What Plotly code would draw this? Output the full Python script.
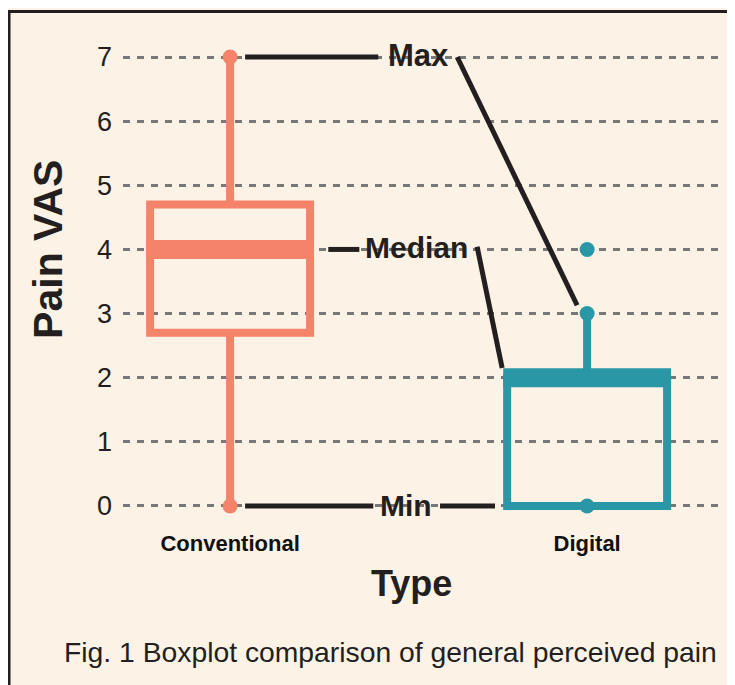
import plotly.graph_objects as go

# ---- data ----
categories = ["Conventional", "Digital"]
q1 = [2.7, 0.0]
median = [4.0, 2.0]
q3 = [4.7, 2.0]
lower_fence = [0.0, 0.0]
upper_fence = [7.0, 3.0]
point_cat = ["Conventional", "Conventional", "Digital", "Digital", "Digital"]
point_val = [7, 0, 4, 3, 0]
y_ticks = [0, 1, 2, 3, 4, 5, 6, 7]

colors = {"Conventional": "#F5836A", "Digital": "#2A97A6"}
BG = "#FCF2E6"
INK = "#231F20"
FONT = "Liberation Sans, Arial, Helvetica, sans-serif"
BOXW = 0.448

fig = go.Figure()

for i, c in enumerate(categories):
    col = colors[c]
    fig.add_trace(go.Box(
        x=[i], q1=[q1[i]], median=[median[i]], q3=[q3[i]],
        lowerfence=[lower_fence[i]], upperfence=[upper_fence[i]],
        width=BOXW, whiskerwidth=0,
        line=dict(color=col, width=8),
        fillcolor="rgba(0,0,0,0)",
        boxpoints=False, showlegend=False, hoverinfo="skip", name=c,
    ))
    # thick median band
    half = BOXW / 2 + 0.011
    fig.add_trace(go.Scatter(
        x=[i - half, i + half], y=[median[i], median[i]],
        mode="lines", line=dict(color=col, width=19),
        showlegend=False, hoverinfo="skip",
    ))

fig.add_trace(go.Scatter(
    x=[categories.index(c) for c in point_cat], y=point_val,
    mode="markers",
    marker=dict(size=15, color=[colors[c] for c in point_cat]),
    showlegend=False, hoverinfo="skip",
))

# ---- annotation callouts (Max / Median / Min) ----
callout_lines = [
    ((0.042, 7.0), (0.415, 7.0)),
    ((0.636, 7.0), (0.972, 3.13)),
    ((0.275, 4.0), (0.362, 4.0)),
    ((0.692, 4.04), (0.762, 2.15)),
    ((0.042, 0.0), (0.401, 0.0)),
    ((0.588, 0.0), (0.742, 0.0)),
]
shapes = []
for (x0, y0), (x1, y1) in callout_lines:
    shapes.append(dict(type="line", xref="x", yref="y", x0=x0, y0=y0, x1=x1, y1=y1,
                       line=dict(color=INK, width=5), layer="above"))

# frame (left and top border)
shapes.append(dict(type="path", xref="paper", yref="paper",
                   path="M -0.1906,-0.36 L -0.1906,1.0613 L 1.03,1.0613",
                   line=dict(color=INK, width=3)))

annotations = [
    dict(x=0.529, y=7.0, xref="x", yref="y", text="<b>Max</b>", showarrow=False,
         font=dict(size=31, color=INK, family=FONT), yshift=2),
    dict(x=0.521, y=4.0, xref="x", yref="y", text="<b>Median</b>", showarrow=False,
         font=dict(size=30, color=INK, family=FONT), yshift=2),
    dict(x=0.493, y=0.0, xref="x", yref="y", text="<b>Min</b>", showarrow=False,
         font=dict(size=30, color=INK, family=FONT), yshift=0),
    dict(x=-0.167, y=0.566, xref="paper", yref="paper", text="<b>Pain VAS</b>",
         textangle=-90, showarrow=False, font=dict(size=41, color=INK, family=FONT)),
    dict(x=0.482, y=-0.175, xref="paper", yref="paper", text="<b>Type</b>",
         showarrow=False, font=dict(size=36, color=INK, family=FONT)),
    dict(x=0.4465, y=-0.308, xref="paper", yref="paper",
         text="Fig. 1 Boxplot comparison of general perceived pain",
         showarrow=False, font=dict(size=28.3, color=INK, family=FONT)),
]

fig.update_layout(
    width=727, height=677,
    margin=dict(l=115, r=14, t=33, b=163),
    paper_bgcolor=BG, plot_bgcolor=BG,
    showlegend=False,
    shapes=shapes, annotations=annotations,
    font=dict(family=FONT, color=INK),
    xaxis=dict(
        range=[-0.3, 1.375], tickvals=[0, 1],
        ticktext=["<b>%s</b>" % c for c in categories],
        showgrid=False, zeroline=False, showline=False,
        ticks="", tickfont=dict(size=22, color="#111111", family=FONT),
        ticklabelstandoff=6,
    ),
    yaxis=dict(
        range=[-0.25, 7.25], tickvals=y_ticks, showgrid=True,
        gridcolor="#777777", gridwidth=2.5, griddash="7px,7px",
        zeroline=False, showline=False, ticks="",
        tickfont=dict(size=27, color=INK, family=FONT),
        ticklabelstandoff=10,
    ),
)

fig.write_html("out.html")
